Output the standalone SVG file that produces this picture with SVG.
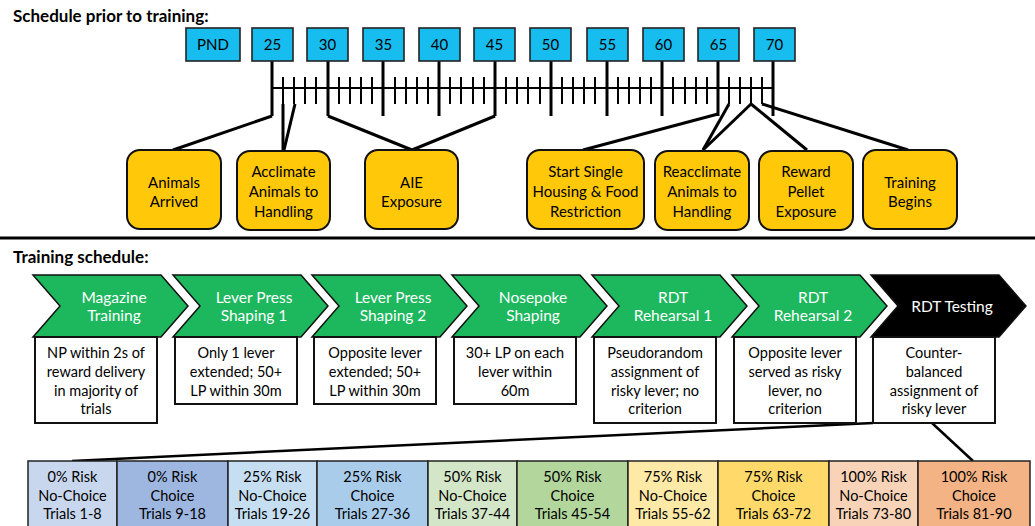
<svg xmlns="http://www.w3.org/2000/svg" width="1035" height="526" viewBox="0 0 1035 526">
<style>
text{font-family:Lato,"Liberation Sans",sans-serif;}
.title{font-size:17px;font-weight:bold;fill:#000;}
.day rect{fill:#17BDEF;stroke:#222;stroke-width:1.6;}
.day text{font-size:15px;text-anchor:middle;fill:#000;}
.ev rect{fill:#FFC808;stroke:#111;stroke-width:2;}
.ev text{font-size:15px;text-anchor:middle;fill:#000;}
.chev path{fill:#1DB75E;stroke:#111;stroke-width:1.5;}
.chev.blk path{fill:#000;}
.chev text{font-size:15.5px;text-anchor:middle;fill:#fff;}
.crit rect{fill:#fff;stroke:#111;stroke-width:2;}
.crit text{font-size:14.5px;text-anchor:middle;fill:#000;}
.blk2 rect{stroke:#222;stroke-width:1.5;}
.blk2 text{font-size:14.5px;text-anchor:middle;fill:#000;}
.ln{stroke:#000;fill:none;stroke-linecap:butt;stroke-linejoin:miter;}
</style>

<text class="title" x="13" y="22">Schedule prior to training:</text>
<text class="title" x="13" y="263">Training schedule:</text>

<!-- timeline -->
<g id="connectors">
  <g class="ln" stroke-width="2">
    <line x1="272" y1="88" x2="773" y2="88"/>
    <path d="M283 77V104M294 77V104M305 77V104M316 77V104
             M339 77V104M350 77V104M361 77V104M372 77V104
             M395 77V104M406 77V104M417 77V104M428 77V104
             M450 77V104M461 77V104M473 77V104M484 77V104
             M506 77V104M517 77V104M528 77V104M540 77V104
             M562 77V104M573 77V104M584 77V104M595 77V104
             M618 77V104M629 77V104M640 77V104M651 77V104
             M673 77V104M685 77V104M696 77V104M707 77V104
             M729 77V104M740 77V104M751 77V104M762 77V104"/>
  </g>
  <g class="ln" stroke-width="3">
    <path d="M272 61V116M328 61V116M383 61V116M439 61V116M495 61V116M551 61V116M607 61V116M662 61V116M718 61V116M773 61V116"/>
    <!-- to event boxes -->
    <polyline points="272,116 173,150"/>
    <polyline points="283,104 283,150"/>
    <polyline points="295,104 284,150"/>
    <polyline points="328,116 412,150"/>
    <polyline points="495,116 412,150"/>
    <polyline points="718,114 583,150"/>
    <polyline points="729,104 703,150"/>
    <polyline points="751,104 703,150"/>
    <polyline points="751,104 807,150"/>
    <polyline points="762,104 908,150"/>
  </g>
  <line class="ln" x1="0" y1="238" x2="1035" y2="238" stroke-width="3"/>
  <g class="ln" stroke-width="2.5">
    <polyline points="873,423 72,461"/>
    <polyline points="932,423 973,461"/>
  </g>
</g>

<!-- day boxes -->
<g id="day-PND" class="day"><rect x="186" y="28" width="54" height="33"/><text x="213" y="50">PND</text></g>
<g id="day-25" class="day"><rect x="252" y="28" width="41" height="33"/><text x="272.5" y="50">25</text></g>
<g id="day-30" class="day"><rect x="307" y="28" width="41" height="33"/><text x="327.5" y="50">30</text></g>
<g id="day-35" class="day"><rect x="363" y="28" width="41" height="33"/><text x="383.5" y="50">35</text></g>
<g id="day-40" class="day"><rect x="419" y="28" width="41" height="33"/><text x="439.5" y="50">40</text></g>
<g id="day-45" class="day"><rect x="474" y="28" width="41" height="33"/><text x="494.5" y="50">45</text></g>
<g id="day-50" class="day"><rect x="530" y="28" width="41" height="33"/><text x="550.5" y="50">50</text></g>
<g id="day-55" class="day"><rect x="587" y="28" width="41" height="33"/><text x="607.5" y="50">55</text></g>
<g id="day-60" class="day"><rect x="643" y="28" width="41" height="33"/><text x="663.5" y="50">60</text></g>
<g id="day-65" class="day"><rect x="698" y="28" width="41" height="33"/><text x="718.5" y="50">65</text></g>
<g id="day-70" class="day"><rect x="754" y="28" width="41" height="33"/><text x="774.5" y="50">70</text></g>

<!-- events -->
<g id="ev-arrived" class="ev"><rect x="127" y="150" width="94" height="79" rx="13"/><text x="174" y="188">Animals</text><text x="174" y="207">Arrived</text></g>
<g id="ev-acclimate" class="ev"><rect x="237" y="151" width="93" height="79" rx="13"/><text x="283.5" y="177">Acclimate</text><text x="283.5" y="197">Animals to</text><text x="283.5" y="217">Handling</text></g>
<g id="ev-aie" class="ev"><rect x="365" y="150" width="93" height="79" rx="13"/><text x="411.5" y="188">AIE</text><text x="411.5" y="207">Exposure</text></g>
<g id="ev-housing" class="ev"><rect x="527" y="150" width="117" height="79" rx="13"/><text x="585.5" y="177">Start Single</text><text x="585.5" y="197">Housing &amp; Food</text><text x="585.5" y="217">Restriction</text></g>
<g id="ev-reacclimate" class="ev"><rect x="655" y="151" width="94" height="79" rx="13"/><text x="702" y="177">Reacclimate</text><text x="702" y="197">Animals to</text><text x="702" y="217">Handling</text></g>
<g id="ev-pellet" class="ev"><rect x="759" y="151" width="94" height="79" rx="13"/><text x="806" y="177">Reward</text><text x="806" y="197">Pellet</text><text x="806" y="217">Exposure</text></g>
<g id="ev-training" class="ev"><rect x="863" y="150" width="94" height="79" rx="13"/><text x="910" y="188">Training</text><text x="910" y="207">Begins</text></g>

<!-- chevrons -->
<g id="st-magazine" class="chev"><path d="M33 275H161L188 306L161 337H33L60 306Z"/><text x="114" y="303">Magazine</text><text x="114" y="321">Training</text></g>
<g id="st-lp1" class="chev"><path d="M173 275H301L328 306L301 337H173L200 306Z"/><text x="254" y="303">Lever Press</text><text x="254" y="321">Shaping 1</text></g>
<g id="st-lp2" class="chev"><path d="M312 275H440L467 306L440 337H312L339 306Z"/><text x="393" y="303">Lever Press</text><text x="393" y="321">Shaping 2</text></g>
<g id="st-nosepoke" class="chev"><path d="M452 275H580L607 306L580 337H452L479 306Z"/><text x="533" y="303">Nosepoke</text><text x="533" y="321">Shaping</text></g>
<g id="st-rdt1" class="chev"><path d="M592 275H720L747 306L720 337H592L619 306Z"/><text x="673" y="303">RDT</text><text x="673" y="321">Rehearsal 1</text></g>
<g id="st-rdt2" class="chev"><path d="M732 275H860L887 306L860 337H732L759 306Z"/><text x="813" y="303">RDT</text><text x="813" y="321">Rehearsal 2</text></g>
<g id="st-rdttest" class="chev blk"><path d="M871 275H999L1026 306L999 337H871L898 306Z"/><text x="952" y="312">RDT Testing</text></g>

<!-- criteria boxes -->
<g id="cr-magazine" class="crit"><rect x="35" y="337" width="122" height="86"/><text x="96" y="358">NP within 2s of</text><text x="96" y="377">reward delivery</text><text x="96" y="396">in majority of</text><text x="96" y="414">trials</text></g>
<g id="cr-lp1" class="crit"><rect x="175" y="337" width="122" height="67"/><text x="236" y="358">Only 1 lever</text><text x="236" y="377">extended; 50+</text><text x="236" y="396">LP within 30m</text></g>
<g id="cr-lp2" class="crit"><rect x="314" y="337" width="122" height="67"/><text x="375" y="358">Opposite lever</text><text x="375" y="377">extended; 50+</text><text x="375" y="396">LP within 30m</text></g>
<g id="cr-nosepoke" class="crit"><rect x="454" y="337" width="122" height="67"/><text x="515" y="358">30+ LP on each</text><text x="515" y="377">lever within</text><text x="515" y="396">60m</text></g>
<g id="cr-rdt1" class="crit"><rect x="594" y="337" width="122" height="86"/><text x="655" y="358">Pseudorandom</text><text x="655" y="377">assignment of</text><text x="655" y="396">risky lever; no</text><text x="655" y="414">criterion</text></g>
<g id="cr-rdt2" class="crit"><rect x="734" y="337" width="122" height="86"/><text x="795" y="358">Opposite lever</text><text x="795" y="377">served as risky</text><text x="795" y="396">lever, no</text><text x="795" y="414">criterion</text></g>
<g id="cr-rdttest" class="crit"><rect x="873" y="337" width="122" height="86"/><text x="934" y="358">Counter-</text><text x="934" y="377">balanced</text><text x="934" y="396">assignment of</text><text x="934" y="414">risky lever</text></g>

<!-- blocks -->
<g id="bl-1" class="blk2"><rect x="28" y="461" width="89" height="70" fill="#C8D7EE"/><text x="72.5" y="482">0% Risk</text><text x="72.5" y="501">No-Choice</text><text x="72.5" y="519">Trials 1-8</text></g>
<g id="bl-2" class="blk2"><rect x="117" y="461" width="111" height="70" fill="#9EB7E1"/><text x="172.5" y="482">0% Risk</text><text x="172.5" y="501">Choice</text><text x="172.5" y="519">Trials 9-18</text></g>
<g id="bl-3" class="blk2"><rect x="228" y="461" width="89" height="70" fill="#C6DEF1"/><text x="272.5" y="482">25% Risk</text><text x="272.5" y="501">No-Choice</text><text x="272.5" y="519">Trials 19-26</text></g>
<g id="bl-4" class="blk2"><rect x="317" y="461" width="111" height="70" fill="#A9CCEB"/><text x="372.5" y="482">25% Risk</text><text x="372.5" y="501">Choice</text><text x="372.5" y="519">Trials 27-36</text></g>
<g id="bl-5" class="blk2"><rect x="428" y="461" width="89" height="70" fill="#D3E6C7"/><text x="472.5" y="482">50% Risk</text><text x="472.5" y="501">No-Choice</text><text x="472.5" y="519">Trials 37-44</text></g>
<g id="bl-6" class="blk2"><rect x="517" y="461" width="111" height="70" fill="#B2D69C"/><text x="572.5" y="482">50% Risk</text><text x="572.5" y="501">Choice</text><text x="572.5" y="519">Trials 45-54</text></g>
<g id="bl-7" class="blk2"><rect x="628" y="461" width="90" height="70" fill="#FFE9A6"/><text x="673" y="482">75% Risk</text><text x="673" y="501">No-Choice</text><text x="673" y="519">Trials 55-62</text></g>
<g id="bl-8" class="blk2"><rect x="718" y="461" width="111" height="70" fill="#FFDA6A"/><text x="773.5" y="482">75% Risk</text><text x="773.5" y="501">Choice</text><text x="773.5" y="519">Trials 63-72</text></g>
<g id="bl-9" class="blk2"><rect x="829" y="461" width="89" height="70" fill="#F9D3B7"/><text x="873.5" y="482">100% Risk</text><text x="873.5" y="501">No-Choice</text><text x="873.5" y="519">Trials 73-80</text></g>
<g id="bl-10" class="blk2"><rect x="918" y="461" width="112" height="70" fill="#F4B385"/><text x="974" y="482">100% Risk</text><text x="974" y="501">Choice</text><text x="974" y="519">Trials 81-90</text></g>
</svg>
